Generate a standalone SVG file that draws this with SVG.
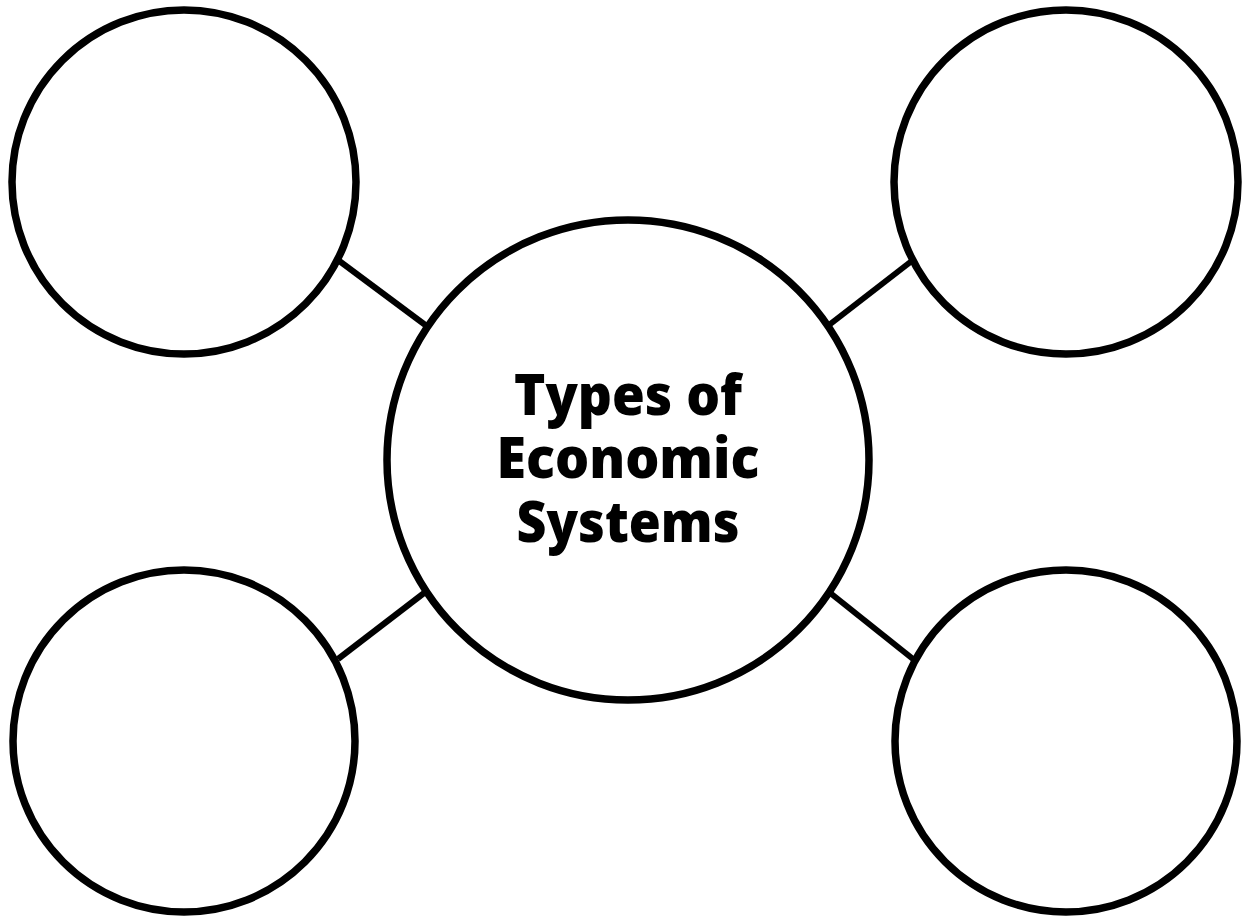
<svg xmlns="http://www.w3.org/2000/svg" width="1245" height="918" viewBox="0 0 1245 918">
<style>
.node{fill:#fff;stroke:#000;stroke-width:7.5}
.conn{stroke:#000;stroke-width:6;fill:none}
.title{font-family:"Open Sans","Noto Sans",sans-serif;font-weight:800;font-size:57px;fill:#000;text-anchor:middle}
</style>
<rect width="1245" height="918" fill="#fff"/>
<g id="connectors">
<line class="conn" x1="338" y1="260" x2="428" y2="327"/>
<line class="conn" x1="913" y1="260" x2="829" y2="325"/>
<line class="conn" x1="338" y1="659" x2="428" y2="590"/>
<line class="conn" x1="913" y1="659" x2="829" y2="592"/>
</g>
<g id="node-top-left"><circle class="node" cx="184" cy="182" r="172"/></g>
<g id="node-top-right"><circle class="node" cx="1066" cy="182" r="172"/></g>
<g id="node-bottom-left"><circle class="node" cx="184" cy="741" r="171"/></g>
<g id="node-bottom-right"><circle class="node" cx="1066" cy="741" r="171"/></g>
<g id="node-center">
<ellipse class="node" cx="628" cy="460" rx="241" ry="240"/>
<text class="title" x="628" y="415" textLength="228" lengthAdjust="spacingAndGlyphs">Types of</text>
<text class="title" x="628" y="478" textLength="263" lengthAdjust="spacingAndGlyphs">Economic</text>
<text class="title" x="628" y="542" textLength="223" lengthAdjust="spacingAndGlyphs">Systems</text>
</g>
</svg>
